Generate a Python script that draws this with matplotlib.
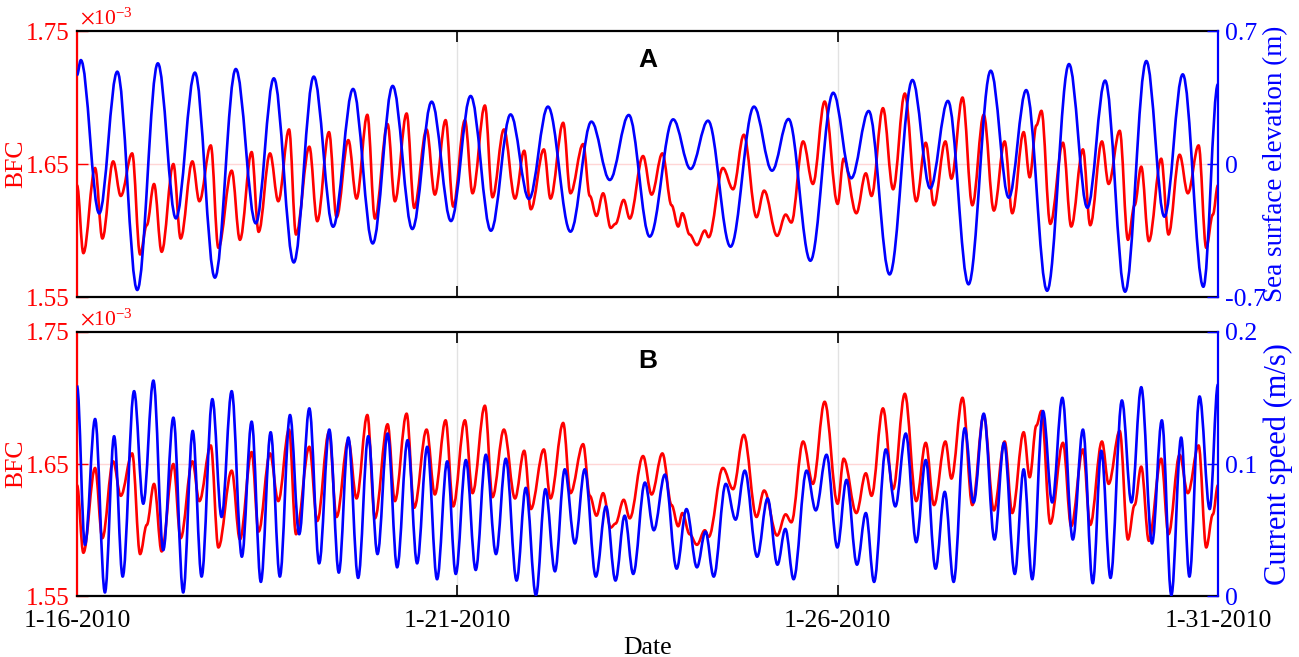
import numpy as np
import pandas as pd
import matplotlib
matplotlib.use('Agg')
import matplotlib.pyplot as plt
import matplotlib.dates as mdates
from matplotlib.path import Path
from matplotlib.patches import PathPatch

plt.rcParams['font.family'] = ['Liberation Serif', 'DejaVu Serif']
plt.rcParams['mathtext.fontset'] = 'stix'

start = pd.Timestamp('2010-01-16')
date_ticks = pd.to_datetime(['2010-01-16', '2010-01-21', '2010-01-26', '2010-01-31'])
date_labels = [f'{d.month}-{d.day}-{d.year}' for d in date_ticks]

# BFC (x1e-3) turning points, hours after 1-16-2010 00:00
bfc_hours = [0, 2.0, 5.7, 8.0, 11.4, 13.8, 17.4, 19.9, 22.0, 24.3, 26.7, 30.4, 32.7, 36.4, 38.6, 42.2, 44.6, 48.8, 51.4, 55.1, 57.3,
             60.9, 63.5, 66.9, 69.1, 73.3, 75.8, 79.5, 81.9, 85.6, 88.2, 91.6, 94.0, 98.0, 100.3, 104.0, 106.4, 110.3, 112.9, 116.3, 118.7,
             122.4, 124.8, 128.7, 131.1, 134.7, 138.2, 141.1, 143.2, 147.3, 149.4, 153.4, 155.7, 159.7, 161.8, 163.9, 166.0, 168.4, 169.9, 172.5, 174.4, 178.6,
             181.3, 184.7, 187.6, 189.7, 191.0, 193.3, 195.6, 198.1, 199.3, 203.8, 207.0, 210.4, 214.4, 216.8, 220.9, 223.6, 225.4, 229.1, 232.2, 235.9, 240.0,
             241.9, 245.9, 248.9, 250.7, 254.3, 257.5, 261.2, 264.8, 267.8, 270.4, 274.0, 275.9, 279.4, 282.5, 286.1, 289.3, 292.7, 295.1, 298.7,
             300.6, 302.7, 304.3, 307.1, 311.1, 313.7, 317.4, 319.7, 323.4, 325.5, 329.0, 331.6, 333.7, 335.8, 338.2, 342.1, 344.4, 347.9, 350.5, 353.9, 356.3, 358.4, 360]
bfc_vals = [1.634, 1.583, 1.647, 1.594, 1.652, 1.626, 1.658, 1.582, 1.604, 1.635, 1.584, 1.650, 1.594, 1.652, 1.622, 1.664, 1.587, 1.645, 1.593, 1.659, 1.599,
            1.658, 1.622, 1.676, 1.597, 1.663, 1.607, 1.674, 1.610, 1.668, 1.624, 1.687, 1.609, 1.680, 1.622, 1.688, 1.617, 1.676, 1.627, 1.683, 1.618,
            1.683, 1.628, 1.694, 1.625, 1.676, 1.624, 1.660, 1.616, 1.661, 1.624, 1.681, 1.628, 1.665, 1.626, 1.611, 1.628, 1.602, 1.605, 1.623, 1.609, 1.656,
            1.627, 1.658, 1.619, 1.603, 1.613, 1.597, 1.589, 1.600, 1.595, 1.647, 1.631, 1.672, 1.610, 1.630, 1.596, 1.612, 1.606, 1.667, 1.635, 1.697, 1.620,
            1.654, 1.613, 1.643, 1.626, 1.692, 1.631, 1.703, 1.622, 1.666, 1.619, 1.667, 1.639, 1.700, 1.619, 1.687, 1.615, 1.667, 1.613, 1.674,
            1.640, 1.679, 1.690, 1.605, 1.666, 1.603, 1.661, 1.604, 1.667, 1.635, 1.675, 1.593, 1.619, 1.648, 1.592, 1.654, 1.597, 1.657, 1.628, 1.664, 1.587, 1.612, 1.634]

# sea surface elevation (m), high / low waters
ssh_hours = [0, 1.2, 7.0, 12.7, 19.0, 25.5, 31.2, 37.2, 43.5, 50.1, 56.4, 62.1, 68.4, 74.7, 80.8, 87.1, 93.3, 99.6, 105.8, 111.9,
             118.0, 124.2, 130.6, 136.8, 142.6, 148.6, 155.7, 162.3, 168.1, 174.1, 180.7, 188.1, 193.6, 199.1, 206.2, 213.6, 219.3, 224.5, 231.4, 238.6,
             244.3, 249.8, 256.4, 263.6, 269.2, 274.8, 281.3, 288.3, 294.0, 299.5, 306.1, 313.0, 318.8, 324.4, 330.7, 337.4, 343.1, 348.9, 355.4, 360]
ssh_vals = [0.468, 0.547, -0.260, 0.486, -0.663, 0.530, -0.286, 0.481, -0.598, 0.500, -0.312, 0.451, -0.518, 0.460, -0.330, 0.395, -0.418, 0.411, -0.342, 0.328,
            -0.300, 0.358, -0.351, 0.261, -0.184, 0.302, -0.356, 0.223, -0.084, 0.258, -0.382, 0.235, -0.026, 0.228, -0.435, 0.302, -0.035, 0.237, -0.509, 0.375,
            -0.075, 0.279, -0.581, 0.442, -0.128, 0.332, -0.633, 0.491, -0.177, 0.389, -0.667, 0.526, -0.230, 0.439, -0.672, 0.542, -0.277, 0.472, -0.646, 0.42]

# current speed (m/s)
spd_hours = [0, 2.5, 5.7, 8.8, 11.7, 14.4, 18.0, 20.9, 24.1, 27.2, 30.4, 33.5, 36.5, 39.3, 42.7, 45.6, 48.8, 52.0, 55.1, 58.0,
             61.1, 64.0, 67.2, 70.1, 73.3, 76.4, 79.6, 82.6, 85.6, 88.7, 91.9, 94.8, 98.0, 101.0, 104.3, 107.3, 110.5, 113.6, 116.8,
             119.5, 122.7, 125.8, 129.0, 132.2, 135.3, 138.7, 141.6, 144.8, 147.8, 150.8, 153.9, 157.1, 160.2, 163.7, 166.9, 169.9, 172.8, 175.5, 179.2,
             182.0, 185.5, 189.2, 192.3, 195.6, 198.3, 200.9, 204.7, 207.8, 210.7, 214.6, 217.9, 221.0, 223.5, 226.1, 230.2, 233.1, 236.5, 239.9,
             242.8, 246.1, 248.9, 251.5, 255.2, 258.2, 261.5, 264.8, 267.8, 270.9, 273.8, 276.6, 280.1, 282.9, 286.1, 289.5, 292.5, 295.9, 298.7,
             301.4, 304.8, 307.7, 310.9, 314.2, 317.4, 320.5, 323.2, 326.1, 329.7, 332.7, 335.8, 339.2, 342.3, 345.3, 348.4, 351.0, 354.2, 357.4, 360]
spd_vals = [0.159, 0.039, 0.134, 0.003, 0.121, 0.015, 0.155, 0.070, 0.163, 0.035, 0.135, 0.003, 0.125, 0.015, 0.149, 0.060, 0.155, 0.030, 0.132, 0.011,
            0.124, 0.015, 0.137, 0.047, 0.142, 0.025, 0.126, 0.018, 0.120, 0.014, 0.121, 0.032, 0.123, 0.022, 0.118, 0.025, 0.113, 0.013, 0.102,
            0.017, 0.103, 0.020, 0.107, 0.032, 0.104, 0.012, 0.082, 0.001, 0.081, 0.019, 0.096, 0.040, 0.096, 0.015, 0.068, 0.012, 0.061, 0.017, 0.086,
            0.050, 0.092, 0.021, 0.066, 0.022, 0.049, 0.015, 0.085, 0.058, 0.095, 0.030, 0.074, 0.024, 0.051, 0.013, 0.095, 0.065, 0.107, 0.037,
            0.088, 0.024, 0.063, 0.011, 0.111, 0.068, 0.123, 0.041, 0.103, 0.021, 0.079, 0.011, 0.127, 0.071, 0.138, 0.043, 0.116, 0.017, 0.096,
            0.013, 0.140, 0.071, 0.150, 0.043, 0.126, 0.010, 0.110, 0.014, 0.148, 0.071, 0.158, 0.040, 0.133, 0.001, 0.120, 0.015, 0.151, 0.066, 0.160]

bfc_ticks = [1.55, 1.65, 1.75]

RED = '#ff0000'
BLUE = '#0000ff'
FS = 18.5


def to_time(hours):
    return start + pd.to_timedelta(np.asarray(hours), unit='h')


def turning_curve(ax, hours, vals, color, k=0.36):
    # smooth line through the turning points (flat tangent at each one)
    x = mdates.date2num(to_time(hours))
    y = np.asarray(vals, float)
    verts = [(x[0], y[0])]
    codes = [Path.MOVETO]
    for i in range(len(x) - 1):
        d = (x[i + 1] - x[i]) * k
        verts += [(x[i] + d, y[i]), (x[i + 1] - d, y[i + 1]), (x[i + 1], y[i + 1])]
        codes += [Path.CURVE4] * 3
    patch = PathPatch(Path(verts, codes), fill=False, edgecolor=color, lw=1.9,
                      joinstyle='round', capstyle='butt')
    ax.add_patch(patch)


fig = plt.figure(figsize=(12.99, 6.57), dpi=100)
axA = fig.add_axes([0.0593, 0.5479, 0.8783, 0.4049])
axB = fig.add_axes([0.0593, 0.0921, 0.8783, 0.4033])


def style_panel(ax, right_vals, right_hours, right_lim, right_ticks, right_labels, right_title,
                title_size, letter, show_dates):
    ax.set_xlim(date_ticks[0], date_ticks[-1])
    ax.set_ylim(1.55, 1.75)
    turning_curve(ax, bfc_hours, bfc_vals, RED)
    ax.set_yticks(bfc_ticks)
    ax.set_yticklabels([f'{v:.2f}' for v in bfc_ticks])
    ax.set_xticks(date_ticks)
    ax.set_xticklabels(date_labels if show_dates else [])
    ax.tick_params(axis='y', colors=RED, direction='in', length=8, width=1, labelsize=18, pad=5)
    ax.tick_params(axis='x', colors='black', direction='in', length=8, width=1.2, labelsize=FS,
                   top=True, pad=10)
    ax.set_ylabel('BFC', color=RED, fontsize=FS)
    ax.yaxis.set_label_coords(-0.044, 0.5)
    ax.grid(axis='x', color='#e2e2e2', lw=1)
    ax.axhline(1.65, color='#ffd6d6', lw=1, zorder=0.5)
    ax.set_axisbelow(True)
    for s in ['top', 'bottom']:
        ax.spines[s].set_color('black')
        ax.spines[s].set_linewidth(1.6)
    ax.spines['left'].set_color(RED)
    ax.spines['left'].set_linewidth(1.6)
    ax.spines['right'].set_visible(False)
    ax.text(0.003, 1.005, r'$\times\mathregular{10^{-3}}$', transform=ax.transAxes,
            ha='left', va='bottom', color=RED, fontsize=15.5)

    ax2 = ax.twinx()
    ax2.set_xlim(date_ticks[0], date_ticks[-1])
    ax2.set_ylim(*right_lim)
    turning_curve(ax2, right_hours, right_vals, BLUE)
    ax2.set_yticks(right_ticks)
    ax2.set_yticklabels(right_labels)
    ax2.tick_params(axis='y', colors=BLUE, direction='in', length=8, width=1, labelsize=FS, pad=5)
    ax2.set_ylabel(right_title, color=BLUE, fontsize=title_size)
    ax2.yaxis.set_label_coords(1.040, 0.5)
    for s in ['top', 'bottom', 'left']:
        ax2.spines[s].set_visible(False)
    ax2.spines['right'].set_color(BLUE)
    ax2.spines['right'].set_linewidth(1.6)

    ax.text(0.5, 0.89, letter, transform=ax.transAxes, ha='center', va='center',
            fontsize=19, fontweight='bold', family='Liberation Sans', zorder=10)
    return ax2


style_panel(axA, ssh_vals, ssh_hours, (-0.7, 0.7), [-0.7, 0, 0.7], ['-0.7', '0', '0.7'],
            'Sea surface elevation (m)', 19.5, 'A', False)
style_panel(axB, spd_vals, spd_hours, (0, 0.2), [0, 0.1, 0.2], ['0', '0.1', '0.2'],
            'Current speed (m/s)', 22, 'B', True)
axB.set_xlabel('Date', fontsize=FS, labelpad=3)

fig.savefig('out.png', dpi=100, facecolor='white')
